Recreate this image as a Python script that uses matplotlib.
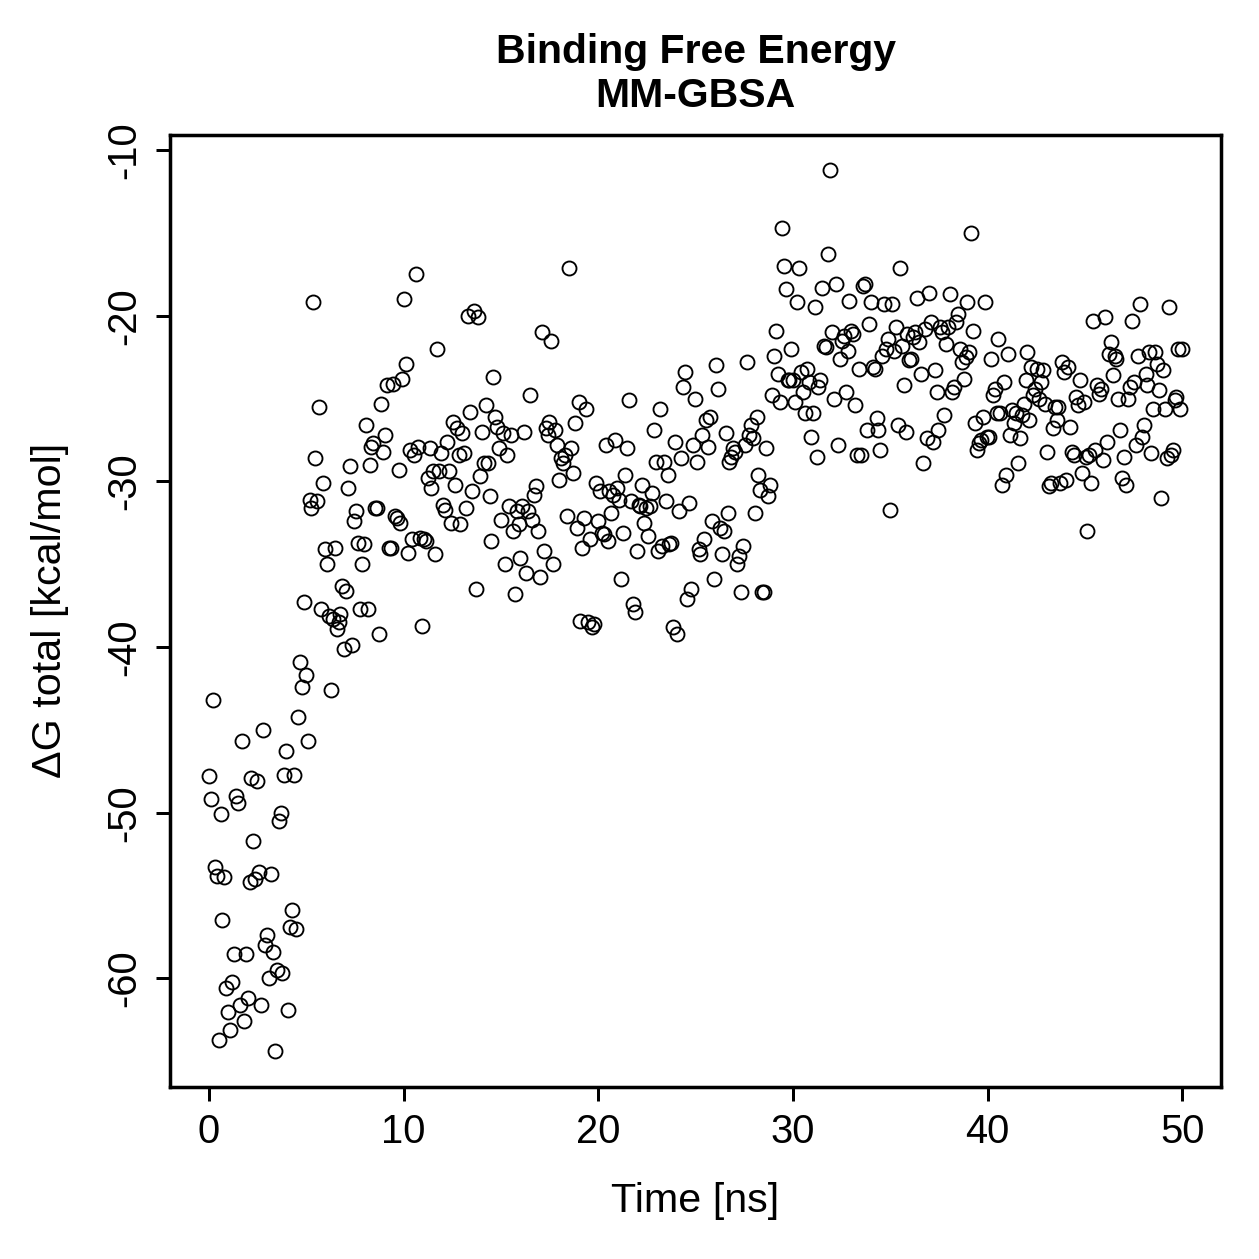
import numpy as np
import matplotlib
matplotlib.use("Agg")
import matplotlib.pyplot as plt

# MM-GBSA binding free energy per frame (kcal/mol)
dg_total = [
    -47.8, -49.2, -43.2, -53.3, -53.8, -63.7, -50.1, -56.5, -53.9, -60.6,
    -62.0, -63.1, -60.2, -58.5, -49.0, -49.4, -61.6, -45.7, -62.6, -58.5,
    -61.2, -54.2, -47.9, -51.7, -54.0, -48.1, -53.6, -61.6, -45.0, -58.0,
    -57.4, -60.0, -53.7, -58.4, -64.4, -59.5, -50.5, -50.0, -59.7, -47.7,
    -46.3, -61.9, -56.9, -55.9, -47.7, -57.0, -44.2, -40.9, -42.4, -37.3,
    -41.7, -45.7, -31.1, -31.6, -19.2, -28.6, -31.2, -25.5, -37.7, -30.1,
    -34.1, -35.0, -38.1, -42.6, -38.3, -34.0, -38.9, -38.5, -38.0, -36.3,
    -40.1, -36.6, -30.4, -29.1, -39.9, -32.4, -31.8, -33.7, -37.7, -35.0,
    -33.8, -26.6, -37.7, -29.0, -27.9, -27.7, -31.6, -31.6, -39.2, -25.3,
    -28.2, -27.2, -24.2, -34.0, -34.0, -24.1, -32.1, -32.2, -29.3, -32.5,
    -23.8, -19.0, -22.9, -34.3, -28.1, -33.5, -28.4, -17.5, -27.9, -33.4,
    -38.7, -33.5, -33.6, -29.8, -28.0, -30.4, -29.4, -34.4, -22.0, -29.4,
    -28.3, -31.4, -31.7, -27.6, -29.4, -32.5, -26.4, -30.2, -26.8, -28.4,
    -32.6, -27.1, -28.3, -31.6, -20.0, -25.8, -30.6, -19.7, -36.5, -20.1,
    -29.7, -27.0, -28.9, -25.4, -28.9, -30.9, -33.6, -23.7, -26.1, -26.7,
    -28.0, -32.3, -27.1, -35.0, -28.4, -31.5, -27.2, -33.0, -36.8, -31.8,
    -32.6, -34.6, -31.5, -27.0, -35.5, -31.8, -24.8, -32.3, -30.8, -30.3,
    -33.0, -35.8, -21.0, -34.2, -26.8, -27.2, -26.4, -21.5, -35.0, -26.9,
    -27.8, -29.9, -28.6, -28.9, -28.4, -32.1, -17.1, -28.0, -29.5, -26.5,
    -32.8, -25.2, -38.4, -34.0, -32.2, -25.6, -38.5, -33.5, -38.8, -38.6,
    -30.1, -32.4, -30.6, -33.1, -33.2, -27.8, -33.6, -30.6, -31.9, -30.8,
    -27.5, -30.4, -31.1, -35.9, -33.1, -29.6, -28.0, -25.1, -31.2, -37.4,
    -37.9, -34.2, -31.4, -31.5, -30.2, -32.5, -31.6, -33.3, -31.5, -30.7,
    -26.9, -28.8, -34.2, -25.6, -33.9, -28.8, -31.2, -29.6, -33.8, -33.7,
    -38.8, -27.6, -39.2, -31.8, -28.6, -24.3, -23.4, -37.1, -31.3, -36.5,
    -27.8, -25.0, -28.8, -34.1, -34.4, -27.2, -33.5, -26.3, -27.9, -26.1,
    -32.4, -35.9, -23.0, -24.4, -32.8, -34.4, -33.0, -27.1, -31.9, -28.8,
    -28.5, -28.0, -28.2, -35.0, -34.5, -36.7, -33.9, -27.8, -22.8, -27.2,
    -26.6, -27.4, -31.9, -26.1, -29.6, -30.5, -36.7, -36.7, -28.0, -30.9,
    -30.2, -24.8, -22.4, -20.9, -23.5, -25.2, -14.7, -17.0, -18.4, -23.9,
    -23.9, -22.0, -23.9, -25.2, -19.2, -17.1, -23.4, -24.6, -25.9, -23.2,
    -24.0, -27.3, -25.9, -19.5, -28.5, -24.3, -23.9, -18.3, -21.8, -21.9,
    -16.3, -11.2, -21.0, -25.0, -18.1, -27.8, -22.6, -21.5, -21.2, -24.6,
    -22.1, -19.1, -20.9, -21.1, -25.4, -28.4, -23.2, -28.4, -18.2, -18.1,
    -26.9, -20.5, -19.2, -23.1, -23.2, -26.2, -26.9, -28.1, -22.4, -19.3,
    -22.0, -21.4, -31.7, -19.3, -22.1, -20.7, -26.6, -17.1, -21.8, -24.2,
    -27.0, -21.1, -22.7, -22.6, -21.3, -21.0, -18.9, -21.6, -23.5, -28.9,
    -20.8, -27.4, -18.6, -20.4, -27.6, -23.3, -24.6, -26.9, -20.7, -21.0,
    -26.0, -21.7, -20.7, -18.7, -24.6, -24.3, -20.4, -19.9, -22.0, -22.8,
    -23.8, -22.5, -19.2, -22.2, -15.0, -20.9, -26.5, -28.1, -27.7, -27.5,
    -26.1, -19.2, -27.3, -27.3, -22.6, -24.8, -24.4, -25.9, -21.4, -25.9,
    -30.2, -24.0, -29.6, -22.3, -27.2, -25.7, -26.5, -25.9, -28.9, -27.4,
    -26.0, -25.3, -23.9, -22.2, -26.3, -23.1, -24.8, -24.4, -23.2, -25.0,
    -24.0, -23.3, -25.3, -28.2, -30.3, -30.1, -26.8, -25.5, -26.3, -25.5,
    -30.1, -22.8, -23.4, -29.9, -23.1, -26.7, -28.2, -28.4, -24.9, -25.4,
    -23.9, -29.5, -25.2, -28.5, -33.0, -28.4, -30.1, -20.3, -28.1, -24.2,
    -24.7, -24.4, -28.7, -20.1, -27.6, -22.3, -21.6, -23.6, -22.4, -22.6,
    -25.0, -26.9, -29.8, -28.5, -30.2, -25.0, -24.3, -20.3, -24.0, -27.8,
    -22.4, -19.3, -27.3, -26.6, -23.5, -24.2, -22.2, -28.3, -25.6, -22.2,
    -22.9, -24.5, -31.0, -23.3, -25.6, -28.6, -19.5, -28.4, -28.1, -25.1,
    -24.9, -22.0, -25.6, -22.0,
]
# frames are evenly spaced over the 50 ns run
time_ns = np.linspace(0, 50, len(dg_total))

x_ticks = [0, 10, 20, 30, 40, 50]
y_ticks = [-60, -50, -40, -30, -20, -10]

plt.rcParams["font.family"] = ["Liberation Sans", "DejaVu Sans"]

fig = plt.figure(figsize=(1259 / 180, 1259 / 180), dpi=180)
ax = fig.add_axes([0.135, 0.137, 0.835, 0.756])

ax.plot(time_ns, dg_total, linestyle="none", marker="o", markersize=5.6,
        markerfacecolor="none", markeredgecolor="black", markeredgewidth=0.75)

# R-style 4% padding around the data range
xmin, xmax = min(time_ns), max(time_ns)
ymin, ymax = min(dg_total), max(dg_total)
ax.set_xlim(xmin - 0.04 * (xmax - xmin), xmax + 0.04 * (xmax - xmin))
ax.set_ylim(ymin - 0.04 * (ymax - ymin), ymax + 0.04 * (ymax - ymin))

ax.set_xticks(x_ticks)
ax.set_yticks(y_ticks)
ax.set_yticklabels([str(v) for v in y_ticks], rotation=90, va="center")
ax.tick_params(direction="out", length=5.5, width=1.2, labelsize=16, pad=5)
for spine in ax.spines.values():
    spine.set_linewidth(1.4)

ax.set_xlabel("Time [ns]", fontsize=16.5, va="center")
ax.xaxis.set_label_coords(0.5, -0.12)
ax.set_ylabel("ΔG total [kcal/mol]", fontsize=16.5, va="center")
ax.yaxis.set_label_coords(-0.114, 0.5)
ax.set_title("Binding Free Energy\nMM-GBSA", fontsize=16.4, fontweight="bold",
             pad=11, linespacing=1.22)

plt.savefig("out.png", dpi=180)
